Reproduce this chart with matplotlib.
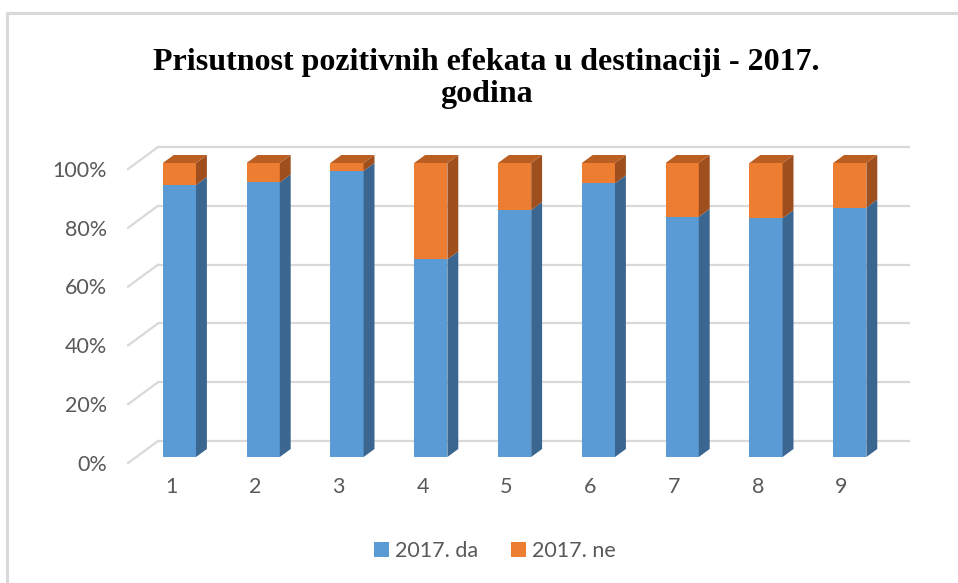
import matplotlib
matplotlib.use('Agg')
import matplotlib.pyplot as plt
from matplotlib.patches import Polygon, Rectangle
from matplotlib.lines import Line2D

# ---------------- data ----------------
categories = ['1', '2', '3', '4', '5', '6', '7', '8', '9']
da = [92.5, 93.4, 97.3, 67.2, 84.0, 93.1, 81.7, 81.2, 84.8]
ne = [100 - v for v in da]
series_names = ['2017. da', '2017. ne']
y_ticks = [0, 20, 40, 60, 80, 100]
y_tick_labels = ['0%', '20%', '40%', '60%', '80%', '100%']
title = 'Prisutnost pozitivnih efekata u destinaciji - 2017.\ngodina'

# ---------------- style ----------------
W, H = 958, 583
blue, blue_side, blue_top = '#5B9BD5', '#3A6690', '#4A7FB0'
orange, orange_side, orange_top = '#ED7D31', '#9E4F1D', '#BA5E22'
grid_c = '#D9D9D9'
txt_c = '#595959'
font = 'Lato'
fs = 15.5

fig = plt.figure(figsize=(W / 100, H / 100), dpi=100)
fig.patch.set_facecolor('white')

# axes placement (pixel mapping: x px = 179.4 + 83.8*(c-1), y px = 457 - 2.94*v)
px_c, px_v = 83.8, 2.94
xlim = (0.3, 9.6)
ylim = (-5, 108)
left_px = 179.4 + px_c * (xlim[0] - 1)
width_px = px_c * (xlim[1] - xlim[0])
top_px = 457 - px_v * ylim[1]
bottom_px = 457 - px_v * ylim[0]
ax = fig.add_axes([left_px / W, (H - bottom_px) / H, width_px / W, (bottom_px - top_px) / H])
ax.set_xlim(*xlim)
ax.set_ylim(*ylim)
ax.axis('off')

# 3D projection helpers (d: depth, 0 = bar front, 1 = back wall)
kx = 21.8 / px_c
ky = 16 / px_v
def proj(c, v, d):
    return (c + d * kx, v + d * ky)

n = len(categories)
xs = list(range(1, n + 1))
c_left = 0.485
c_right = n + 0.458
d_front = -0.375
d_bar = 0.5
w = 0.396

# gridlines on back wall + left diagonals
for v, lab in zip(y_ticks, y_tick_labels):
    p0 = proj(c_left, v, 1)
    p1 = proj(c_right, v, 1)
    ax.plot([p0[0], p1[0]], [p0[1], p1[1]], color=grid_c, lw=1.6, zorder=1,
            solid_capstyle='butt', clip_on=False)
    q0 = proj(c_left, v, d_front)
    ax.plot([q0[0], p0[0]], [q0[1], p0[1]], color=grid_c, lw=1.6, zorder=1, clip_on=False)
    ax.text(q0[0] - 21 / px_c, q0[1] - 0.6, lab,
            ha='right', va='center', fontsize=fs, color=txt_c, family=font)

# bars: front faces
ax.bar(xs, da, width=w, color=blue, zorder=3, linewidth=0)
ax.bar(xs, ne, bottom=da, width=w, color=orange, zorder=3, linewidth=0)

# side and top faces
for c, a, b in zip(xs, da, ne):
    xr = c + w / 2
    for (y0, y1, col) in [(0, a, blue_side), (a, a + b, orange_side)]:
        pts = [(xr, y0), proj(xr, y0, d_bar), proj(xr, y1, d_bar), (xr, y1)]
        ax.add_patch(Polygon(pts, closed=True, facecolor=col, edgecolor='none', zorder=3))
    top = a + b
    top_col = orange_top if b > 0 else blue_top
    pts = [(c - w / 2, top), (xr, top), proj(xr, top, d_bar), proj(c - w / 2, top, d_bar)]
    ax.add_patch(Polygon(pts, closed=True, facecolor=top_col, edgecolor='none', zorder=3))

# category labels
for c, lab in zip(xs, categories):
    px, _ = proj(c, 0, d_front)
    ax.text(px, -10.2, lab, ha='center', va='center', fontsize=fs, color=txt_c, family=font)

# title
fig.text(486.5 / W, 1 - 78.5 / H, title, ha='center', va='center', fontsize=23,
         fontweight='bold', family='Liberation Serif', linespacing=1.15, color='black')

# legend
handles = [Rectangle((0, 0), 1, 1, facecolor=blue), Rectangle((0, 0), 1, 1, facecolor=orange)]
fig.legend(handles, series_names, loc='center', bbox_to_anchor=(495 / W, 1 - 551 / H),
           ncol=2, frameon=False, handlelength=0.7, handleheight=0.7, handletextpad=0.3,
           columnspacing=1.5, prop={'family': font, 'size': fs}, labelcolor=txt_c)

# chart border (top and left)
fig.add_artist(Line2D([7 / W, 1], [1 - 13 / H, 1 - 13 / H], transform=fig.transFigure,
                      color=grid_c, lw=2.2))
fig.add_artist(Line2D([7 / W, 7 / W], [0, 1 - 13 / H], transform=fig.transFigure,
                      color=grid_c, lw=2.2))

fig.savefig('out.png', dpi=100, facecolor='white')
